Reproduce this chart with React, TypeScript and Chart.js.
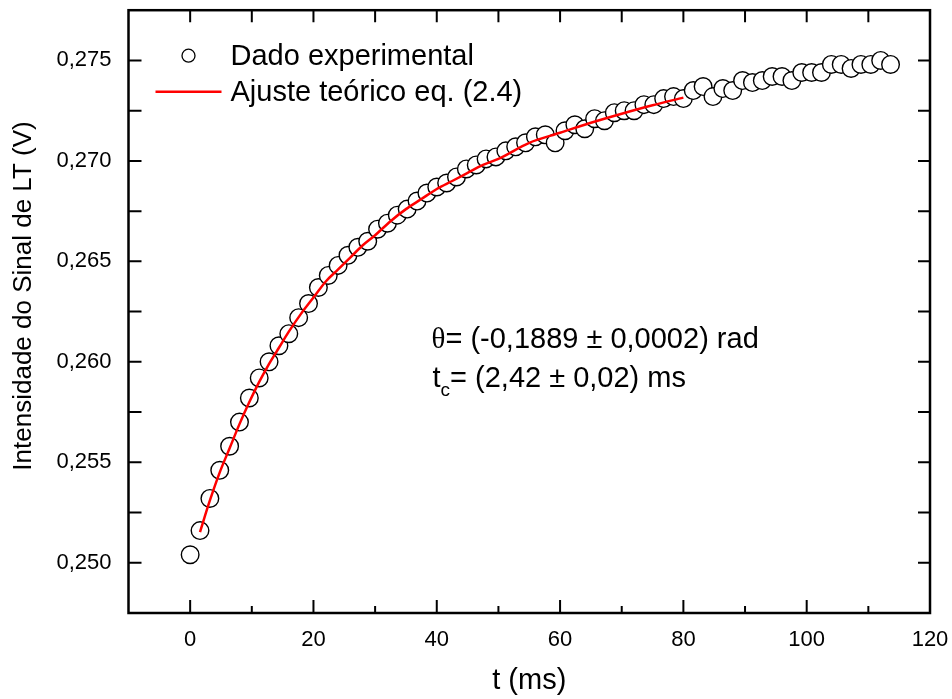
import React, { useEffect, useRef } from "react";
import { Chart, registerables } from "chart.js";
Chart.register(...registerables);

// ---- data ----
const timeMs = [
  0, 1.6, 3.2, 4.8, 6.4, 8, 9.6, 11.2, 12.8, 14.4,
  16, 17.6, 19.2, 20.8, 22.4, 24, 25.6, 27.2, 28.8, 30.4,
  32, 33.6, 35.2, 36.8, 38.4, 40, 41.6, 43.2, 44.8, 46.4,
  48, 49.6, 51.2, 52.8, 54.4, 56, 57.6, 59.2, 60.8, 62.4,
  64, 65.6, 67.2, 68.8, 70.4, 72, 73.6, 75.2, 76.8, 78.4,
  80, 81.6, 83.2, 84.8, 86.4, 88, 89.6, 91.2, 92.8, 94.4,
  96, 97.6, 99.2, 100.8, 102.4, 104, 105.6, 107.2, 108.8, 110.4,
  112, 113.6,
];
const signalV = [
  0.2504, 0.2516, 0.2532, 0.2546, 0.2558, 0.2570, 0.2582, 0.2592, 0.2600, 0.2608,
  0.2614, 0.2622, 0.2629, 0.2637, 0.2643, 0.2648, 0.2653, 0.2657, 0.2660, 0.2666,
  0.2669, 0.2673, 0.2676, 0.2680, 0.2684, 0.2687, 0.2689, 0.2692, 0.2696, 0.2698,
  0.2701, 0.2702, 0.2705, 0.2707, 0.2709, 0.2712, 0.2713, 0.2709, 0.2715, 0.2718,
  0.2716, 0.2721, 0.2720, 0.2724, 0.2725, 0.2725, 0.2728, 0.2728, 0.2731, 0.2732,
  0.2731, 0.2735, 0.2737, 0.2732, 0.2736, 0.2735, 0.2740, 0.2739, 0.2740, 0.2742,
  0.2742, 0.2740, 0.2744, 0.2744, 0.2744, 0.2748, 0.2748, 0.2746, 0.2748, 0.2748,
  0.2750, 0.2748,
];
const fitTimeMs = [
  1.6, 3.2, 4.8, 6.4, 8, 9.6, 11.2, 12.8, 14.4, 16, 18, 20, 22, 24, 26, 28, 30,
  32.5, 35, 37.5, 40, 42.5, 45, 47.5, 50, 55, 60, 65, 70, 75, 80,
];
const fitSignalV = [
  0.25153, 0.2531, 0.2545, 0.2557, 0.2569, 0.258, 0.259, 0.2599, 0.2607, 0.2615,
  0.2624, 0.2632, 0.264, 0.2646, 0.2652, 0.2658, 0.2663, 0.267, 0.2676, 0.2681,
  0.2686, 0.269, 0.2694, 0.2698, 0.2701, 0.2709, 0.2714, 0.2719, 0.27235, 0.27277,
  0.27315,
];
const xTickValues = [0, 20, 40, 60, 80, 100, 120];
const xMinorTickValues = [10, 30, 50, 70, 90, 110];
const yTickValues = [0.25, 0.255, 0.26, 0.265, 0.27, 0.275];
const yMinorTickValues = [0.2525, 0.2575, 0.2625, 0.2675, 0.2725];

const SANS = '"Liberation Sans", Arial, Helvetica, sans-serif';
const SERIF = '"Liberation Serif", "Times New Roman", serif';

const framePlugin = {
  id: "frameTicks",
  afterDraw(chart: any) {
    const { ctx, chartArea } = chart;
    const { left, right, top, bottom } = chartArea;
    const xs = chart.scales.x;
    const ys = chart.scales.y;
    ctx.save();
    ctx.strokeStyle = "#000";
    ctx.lineWidth = 2;
    ctx.beginPath();
    for (const v of xTickValues) {
      const p = xs.getPixelForValue(v);
      ctx.moveTo(p, bottom);
      ctx.lineTo(p, bottom - 13);
      ctx.moveTo(p, top);
      ctx.lineTo(p, top + 12);
    }
    for (const v of xMinorTickValues) {
      const p = xs.getPixelForValue(v);
      ctx.moveTo(p, bottom);
      ctx.lineTo(p, bottom - 7);
      ctx.moveTo(p, top);
      ctx.lineTo(p, top + 12);
    }
    for (const v of [...yTickValues, ...yMinorTickValues]) {
      const p = ys.getPixelForValue(v);
      ctx.moveTo(left, p);
      ctx.lineTo(left + 13, p);
      ctx.moveTo(right, p);
      ctx.lineTo(right - 12, p);
    }
    ctx.stroke();
    ctx.lineWidth = 2.5;
    ctx.strokeRect(left, top, right - left, bottom - top);

    // y axis title
    ctx.save();
    ctx.translate(24, 296);
    ctx.rotate(-Math.PI / 2);
    ctx.fillStyle = "#000";
    ctx.font = `26px ${SANS}`;
    ctx.textAlign = "center";
    ctx.textBaseline = "middle";
    ctx.fillText("Intensidade do Sinal de LT (V)", 0, 0);
    ctx.restore();

    // legend
    const lx = left;
    const ty = top;
    ctx.beginPath();
    ctx.arc(lx + 60, ty + 45.5, 6.5, 0, Math.PI * 2);
    ctx.fillStyle = "#fff";
    ctx.fill();
    ctx.lineWidth = 1.3;
    ctx.strokeStyle = "#000";
    ctx.stroke();
    ctx.beginPath();
    ctx.strokeStyle = "#ff0000";
    ctx.lineWidth = 2.5;
    ctx.moveTo(lx + 27, ty + 81.5);
    ctx.lineTo(lx + 93, ty + 81.5);
    ctx.stroke();
    ctx.fillStyle = "#000";
    ctx.font = `29px ${SANS}`;
    ctx.textBaseline = "alphabetic";
    ctx.textAlign = "left";
    ctx.fillText("Dado experimental", lx + 102, ty + 55);
    ctx.fillText("Ajuste teórico eq. (2.4)", lx + 102, ty + 91);

    // annotation
    const ax = lx + 303;
    ctx.font = `29px ${SERIF}`;
    ctx.fillText("θ", ax, 348);
    const thw = ctx.measureText("θ").width;
    ctx.font = `29px ${SANS}`;
    ctx.fillText("= (-0,1889 ± 0,0002) rad", ax + thw, 348);
    ctx.fillText("t", ax + 1, 387);
    const tw = ctx.measureText("t").width;
    ctx.font = `19px ${SANS}`;
    ctx.fillText("c", ax + 1 + tw, 396);
    const cw = ctx.measureText("c").width;
    ctx.font = `29px ${SANS}`;
    ctx.fillText("= (2,42 ± 0,02) ms", ax + 1 + tw + cw, 387);
    ctx.restore();
  },
};

const noPad = (s: any) => {
  s.paddingTop = 0;
  s.paddingBottom = 0;
  s.paddingLeft = 0;
  s.paddingRight = 0;
};

export default function App() {
  const ref = useRef<HTMLCanvasElement | null>(null);
  useEffect(() => {
    if (!ref.current) return;
    const chart = new Chart(ref.current, {
      type: "scatter",
      data: {
        datasets: [
          {
            type: "line",
            label: "Ajuste teórico eq. (2.4)",
            data: fitTimeMs.map((t, i) => ({ x: t, y: fitSignalV[i] })),
            borderColor: "#ff0000",
            borderWidth: 2.5,
            pointRadius: 0,
            fill: false,
            cubicInterpolationMode: "monotone",
            order: 0,
          } as any,
          {
            type: "scatter",
            label: "Dado experimental",
            data: timeMs.map((t, i) => ({ x: t, y: signalV[i] })),
            backgroundColor: "#ffffff",
            borderColor: "#000000",
            borderWidth: 1.4,
            pointRadius: 8.8,
            order: 1,
          },
        ],
      },
      options: {
        animation: false,
        responsive: false,
        devicePixelRatio: 1,
        layout: { padding: { top: 6, right: 22, left: 0, bottom: 0 } },
        plugins: { legend: { display: false }, tooltip: { enabled: false } },
        scales: {
          x: {
            type: "linear",
            min: -10,
            max: 120,
            grid: { display: false, drawTicks: false },
            border: { display: false },
            afterBuildTicks: (s: any) => {
              s.ticks = xTickValues.map((v) => ({ value: v }));
            },
            afterFit: (s: any) => {
              s.height = 86;
              noPad(s);
            },
            ticks: {
              color: "#000",
              padding: 14,
              maxRotation: 0,
              autoSkip: false,
              font: { family: SANS, size: 22 },
              callback: (v: any) => String(v),
            },
            title: {
              display: true,
              text: "t (ms)",
              color: "#000",
              font: { family: SANS, size: 29 },
              padding: { top: 0, bottom: 1 },
            },
          },
          y: {
            type: "linear",
            min: 0.2475,
            max: 0.2775,
            grid: { display: false, drawTicks: false },
            border: { display: false },
            afterBuildTicks: (s: any) => {
              s.ticks = yTickValues.map((v) => ({ value: v }));
            },
            afterFit: (s: any) => {
              s.width = 128.5;
              noPad(s);
            },
            ticks: {
              color: "#000",
              padding: 17,
              autoSkip: false,
              font: { family: SANS, size: 22 },
              callback: (v: any) => Number(v).toFixed(3).replace(".", ","),
            },
            title: { display: false },
          },
        },
      },
      plugins: [framePlugin],
    });
    return () => chart.destroy();
  }, []);
  return (
    <div style={{ position: "absolute", left: 0, top: 0, width: 952, height: 699, background: "#fff" }}>
      <canvas ref={ref} width={952} height={699} style={{ display: "block", width: 952, height: 699 }} />
    </div>
  );
}
